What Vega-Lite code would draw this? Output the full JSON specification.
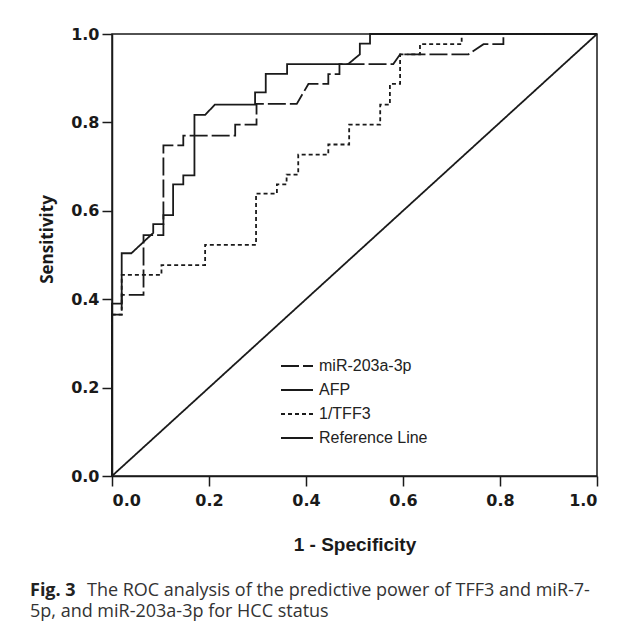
{
  "$schema": "https://vega.github.io/schema/vega-lite/v6.json",
  "width": 485,
  "height": 442,
  "autosize": {"type": "none"},
  "padding": {"left": 112, "top": 34, "right": 37, "bottom": 146},
  "background": "white",
  "title": {
    "text": "Fig. 3",
    "subtitle": ["\u200b\u2003\u2003\u2002\u2002\u2009The ROC analysis of the predictive power of TFF3 and miR-7-", "5p, and miR-203a-3p for HCC status"],
    "orient": "bottom",
    "anchor": "start",
    "frame": "group",
    "dx": -82,
    "offset": 28,
    "font": "Open Sans",
    "fontSize": 18,
    "fontWeight": "bold",
    "color": "#222",
    "subtitleFont": "Open Sans",
    "subtitleFontSize": 18,
    "subtitleFontWeight": "normal",
    "subtitleColor": "#333",
    "subtitlePadding": -18,
    "subtitleLineHeight": 21
  },
  "data": {
    "values": [
      {"s": "AFP", "i": 0, "x": 0, "y": 0},
      {"s": "AFP", "i": 1, "x": 0, "y": 0.39},
      {"s": "AFP", "i": 2, "x": 0.02, "y": 0.39},
      {"s": "AFP", "i": 3, "x": 0.02, "y": 0.504},
      {"s": "AFP", "i": 4, "x": 0.04, "y": 0.504},
      {"s": "AFP", "i": 5, "x": 0.085, "y": 0.55},
      {"s": "AFP", "i": 6, "x": 0.085, "y": 0.57},
      {"s": "AFP", "i": 7, "x": 0.106, "y": 0.57},
      {"s": "AFP", "i": 8, "x": 0.106, "y": 0.59},
      {"s": "AFP", "i": 9, "x": 0.126, "y": 0.59},
      {"s": "AFP", "i": 10, "x": 0.126, "y": 0.66},
      {"s": "AFP", "i": 11, "x": 0.147, "y": 0.66},
      {"s": "AFP", "i": 12, "x": 0.147, "y": 0.68},
      {"s": "AFP", "i": 13, "x": 0.17, "y": 0.68},
      {"s": "AFP", "i": 14, "x": 0.17, "y": 0.817},
      {"s": "AFP", "i": 15, "x": 0.192, "y": 0.817},
      {"s": "AFP", "i": 16, "x": 0.212, "y": 0.84},
      {"s": "AFP", "i": 17, "x": 0.295, "y": 0.84},
      {"s": "AFP", "i": 18, "x": 0.295, "y": 0.868},
      {"s": "AFP", "i": 19, "x": 0.317, "y": 0.868},
      {"s": "AFP", "i": 20, "x": 0.317, "y": 0.91},
      {"s": "AFP", "i": 21, "x": 0.361, "y": 0.91},
      {"s": "AFP", "i": 22, "x": 0.361, "y": 0.932},
      {"s": "AFP", "i": 23, "x": 0.487, "y": 0.932},
      {"s": "AFP", "i": 24, "x": 0.511, "y": 0.954},
      {"s": "AFP", "i": 25, "x": 0.511, "y": 0.978},
      {"s": "AFP", "i": 26, "x": 0.532, "y": 0.978},
      {"s": "AFP", "i": 27, "x": 0.532, "y": 1},
      {"s": "AFP", "i": 28, "x": 1, "y": 1},
      {"s": "miR-203a-3p", "i": 0, "x": 0, "y": 0},
      {"s": "miR-203a-3p", "i": 1, "x": 0, "y": 0.365},
      {"s": "miR-203a-3p", "i": 2, "x": 0.02, "y": 0.365},
      {"s": "miR-203a-3p", "i": 3, "x": 0.02, "y": 0.41},
      {"s": "miR-203a-3p", "i": 4, "x": 0.065, "y": 0.41},
      {"s": "miR-203a-3p", "i": 5, "x": 0.065, "y": 0.545},
      {"s": "miR-203a-3p", "i": 6, "x": 0.106, "y": 0.545},
      {"s": "miR-203a-3p", "i": 7, "x": 0.106, "y": 0.748},
      {"s": "miR-203a-3p", "i": 8, "x": 0.147, "y": 0.748},
      {"s": "miR-203a-3p", "i": 9, "x": 0.147, "y": 0.77},
      {"s": "miR-203a-3p", "i": 10, "x": 0.254, "y": 0.77},
      {"s": "miR-203a-3p", "i": 11, "x": 0.254, "y": 0.795},
      {"s": "miR-203a-3p", "i": 12, "x": 0.298, "y": 0.795},
      {"s": "miR-203a-3p", "i": 13, "x": 0.298, "y": 0.842},
      {"s": "miR-203a-3p", "i": 14, "x": 0.381, "y": 0.842},
      {"s": "miR-203a-3p", "i": 15, "x": 0.405, "y": 0.887},
      {"s": "miR-203a-3p", "i": 16, "x": 0.446, "y": 0.887},
      {"s": "miR-203a-3p", "i": 17, "x": 0.446, "y": 0.909},
      {"s": "miR-203a-3p", "i": 18, "x": 0.469, "y": 0.909},
      {"s": "miR-203a-3p", "i": 19, "x": 0.469, "y": 0.932},
      {"s": "miR-203a-3p", "i": 20, "x": 0.58, "y": 0.932},
      {"s": "miR-203a-3p", "i": 21, "x": 0.594, "y": 0.954},
      {"s": "miR-203a-3p", "i": 22, "x": 0.735, "y": 0.954},
      {"s": "miR-203a-3p", "i": 23, "x": 0.766, "y": 0.977},
      {"s": "miR-203a-3p", "i": 24, "x": 0.807, "y": 0.977},
      {"s": "miR-203a-3p", "i": 25, "x": 0.807, "y": 1},
      {"s": "miR-203a-3p", "i": 26, "x": 1, "y": 1},
      {"s": "1/TFF3", "i": 0, "x": 0, "y": 0},
      {"s": "1/TFF3", "i": 1, "x": 0, "y": 0.365},
      {"s": "1/TFF3", "i": 2, "x": 0.02, "y": 0.365},
      {"s": "1/TFF3", "i": 3, "x": 0.02, "y": 0.455},
      {"s": "1/TFF3", "i": 4, "x": 0.102, "y": 0.455},
      {"s": "1/TFF3", "i": 5, "x": 0.102, "y": 0.477},
      {"s": "1/TFF3", "i": 6, "x": 0.192, "y": 0.477},
      {"s": "1/TFF3", "i": 7, "x": 0.192, "y": 0.523},
      {"s": "1/TFF3", "i": 8, "x": 0.297, "y": 0.523},
      {"s": "1/TFF3", "i": 9, "x": 0.297, "y": 0.639},
      {"s": "1/TFF3", "i": 10, "x": 0.34, "y": 0.639},
      {"s": "1/TFF3", "i": 11, "x": 0.34, "y": 0.66},
      {"s": "1/TFF3", "i": 12, "x": 0.36, "y": 0.66},
      {"s": "1/TFF3", "i": 13, "x": 0.36, "y": 0.682},
      {"s": "1/TFF3", "i": 14, "x": 0.384, "y": 0.682},
      {"s": "1/TFF3", "i": 15, "x": 0.384, "y": 0.727},
      {"s": "1/TFF3", "i": 16, "x": 0.446, "y": 0.727},
      {"s": "1/TFF3", "i": 17, "x": 0.446, "y": 0.75},
      {"s": "1/TFF3", "i": 18, "x": 0.489, "y": 0.75},
      {"s": "1/TFF3", "i": 19, "x": 0.489, "y": 0.795},
      {"s": "1/TFF3", "i": 20, "x": 0.553, "y": 0.795},
      {"s": "1/TFF3", "i": 21, "x": 0.553, "y": 0.84},
      {"s": "1/TFF3", "i": 22, "x": 0.573, "y": 0.84},
      {"s": "1/TFF3", "i": 23, "x": 0.573, "y": 0.887},
      {"s": "1/TFF3", "i": 24, "x": 0.594, "y": 0.887},
      {"s": "1/TFF3", "i": 25, "x": 0.594, "y": 0.954},
      {"s": "1/TFF3", "i": 26, "x": 0.635, "y": 0.954},
      {"s": "1/TFF3", "i": 27, "x": 0.635, "y": 0.977},
      {"s": "1/TFF3", "i": 28, "x": 0.721, "y": 0.977},
      {"s": "1/TFF3", "i": 29, "x": 0.721, "y": 1},
      {"s": "1/TFF3", "i": 30, "x": 1, "y": 1},
      {"s": "Reference Line", "i": 0, "x": 0, "y": 0},
      {"s": "Reference Line", "i": 1, "x": 1, "y": 1}
    ]
  },
  "mark": {"type": "line", "color": "#1a1a1a", "strokeWidth": 1.8, "interpolate": "linear"},
  "encoding": {
    "x": {
      "field": "x", "type": "quantitative",
      "scale": {"domain": [0, 1], "nice": false, "zero": false},
      "axis": {"title": "1 - Specificity", "values": [0, 0.2, 0.4, 0.6, 0.8, 1], "format": ".1f"}
    },
    "y": {
      "field": "y", "type": "quantitative",
      "scale": {"domain": [0, 1], "nice": false, "zero": false},
      "axis": {"title": "Sensitivity", "values": [0, 0.2, 0.4, 0.6, 0.8, 1], "format": ".1f", "titleY": 205}
    },
    "order": {"field": "i", "type": "quantitative"},
    "detail": {"field": "s"},
    "strokeDash": {
      "field": "s", "type": "nominal",
      "scale": {
        "domain": ["miR-203a-3p", "AFP", "1/TFF3", "Reference Line"],
        "range": [[18, 4], [1, 0], [4, 3], [1, 0]]
      },
      "legend": {
        "title": null,
        "orient": "none",
        "legendX": 168,
        "legendY": 320,
        "padding": 0,
        "symbolType": "stroke",
        "symbolSize": 1024,
        "symbolStrokeWidth": 1.8,
        "symbolStrokeColor": "#1a1a1a",
        "clipHeight": 24,
        "rowPadding": 0,
        "labelOffset": 5,
        "labelFont": "Liberation Sans",
        "labelFontSize": 16,
        "labelColor": "#222",
        "labelLimit": 300
      }
    }
  },
  "config": {
    "view": {"stroke": "#1a1a1a", "strokeWidth": 1.5},
    "axis": {
      "grid": false,
      "domainColor": "#1a1a1a",
      "domainWidth": 1.5,
      "tickColor": "#1a1a1a",
      "tickWidth": 1.5,
      "tickSize": 10,
      "labelFont": "DejaVu Sans",
      "labelFontWeight": "bold",
      "labelFontSize": 16,
      "labelColor": "#1a1a1a",
      "titleColor": "#1a1a1a"
    },
    "axisX": {
      "labelPadding": 6,
      "titleFont": "Liberation Sans",
      "titleFontWeight": "bold",
      "titleFontSize": 19,
      "titlePadding": 27
    },
    "axisY": {
      "labelPadding": 3,
      "titleFont": "Open Sans",
      "titleFontWeight": "bold",
      "titleFontSize": 17,
      "titlePadding": 14
    }
  }
}
